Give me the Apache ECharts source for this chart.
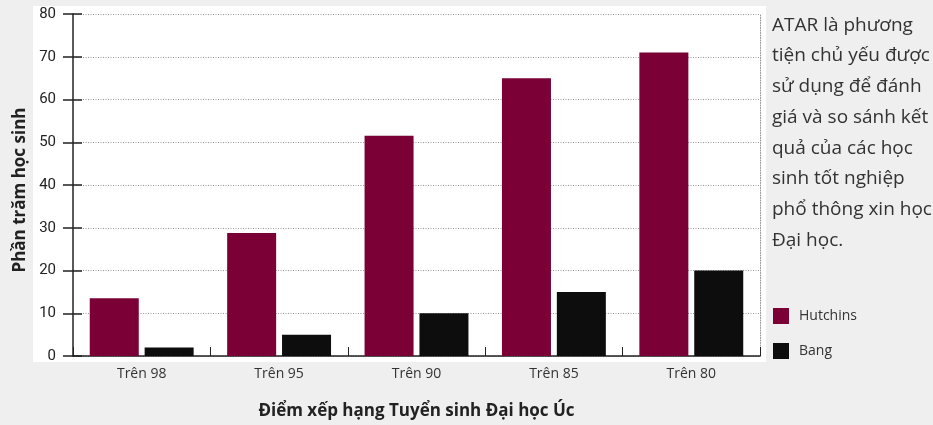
<!DOCTYPE html>
<html><head><meta charset="utf-8">
<script src="https://cdn.jsdelivr.net/npm/echarts@6/dist/echarts.min.js"></script>
<style>html,body{margin:0;padding:0;background:#efefef;}#c{width:933px;height:425px;}</style>
</head><body><div id="c"></div>
<script>
const categories = ['Trên 98', 'Trên 95', 'Trên 90', 'Trên 85', 'Trên 80'];
const hutchins = [13.5, 28.8, 51.5, 65, 71];
const bang = [2, 5, 10, 15, 20];
const seriesNames = ['Hutchins', 'Bang'];
const yTicks = { min: 0, max: 80, interval: 10 };
const xTitle = 'Điểm xếp hạng Tuyển sinh Đại học Úc';
const yTitle = 'Phần trăm học sinh';
const note = 'ATAR là phương\ntiện chủ yếu được\nsử dụng để đánh\ngiá và so sánh kết\nquả của các học\nsinh tốt nghiệp\nphổ thông xin học\nĐại học.';

const chart = echarts.init(document.getElementById('c'), null, { renderer: 'canvas' });
const yBase = { type: 'value', min: yTicks.min, max: yTicks.max, interval: yTicks.interval };
chart.setOption({
  backgroundColor: '#efefef',
  animation: false,
  graphic: [
    { type: 'rect', z: -10, shape: { x: 33, y: 6, width: 733, height: 356 }, style: { fill: '#ffffff' } },
    { type: 'text', left: 772, top: 10, style: { text: note, font: '19px "Open Sans"', fill: '#333333', lineHeight: 30.7 } }
  ],
  legend: {
    orient: 'vertical', left: 768, top: 303, itemWidth: 16, itemHeight: 16, itemGap: 19,
    icon: 'rect', data: seriesNames,
    textStyle: { fontFamily: 'Open Sans', fontSize: 14, color: '#333333', padding: [0, 0, 0, 5] }
  },
  grid: { left: 73, right: 173, top: 14, bottom: 69, containLabel: false },
  xAxis: {
    type: 'category', data: categories,
    axisLine: { lineStyle: { color: '#222', width: 1.5 } },
    axisTick: { show: true, inside: true, length: 9, lineStyle: { color: '#222' } },
    axisLabel: { margin: 11, fontFamily: 'Open Sans', fontSize: 14, color: '#333333' },
    name: xTitle, nameLocation: 'middle', nameGap: 47,
    nameTextStyle: { fontFamily: 'Open Sans', fontSize: 17, fontWeight: 'bold', color: '#222' }
  },
  yAxis: [
    Object.assign({}, yBase, {
      position: 'left',
      axisLine: { show: true, lineStyle: { color: '#222', width: 1.5 } },
      axisTick: { show: true, length: 10, lineStyle: { color: '#222', width: 1.5 } },
      axisLabel: { margin: 17, fontFamily: 'Roboto', fontSize: 15, color: '#222' },
      splitLine: { show: true, lineStyle: { color: '#999', type: [1, 1.5], width: 1 } },
      name: yTitle, nameLocation: 'middle', nameGap: 44, nameRotate: 90,
      nameTextStyle: { fontFamily: 'Open Sans', fontSize: 17, fontWeight: 'bold', color: '#222', padding: [0, 10, 0, 0] }
    }),
    Object.assign({}, yBase, {
      position: 'left',
      axisLine: { show: false },
      axisTick: { show: true, inside: true, length: 9, lineStyle: { color: '#222', width: 1.5 } },
      axisLabel: { show: false }, splitLine: { show: false }
    }),
    Object.assign({}, yBase, {
      position: 'right',
      axisLine: { show: true, lineStyle: { color: '#999', type: [1, 1.5], width: 1 } },
      axisTick: { show: false }, axisLabel: { show: false }, splitLine: { show: false }
    })
  ],
  series: [
    { name: seriesNames[0], type: 'bar', data: hutchins, barWidth: 49, barGap: '12%', itemStyle: { color: '#7a0036' } },
    { name: seriesNames[1], type: 'bar', data: bang, barWidth: 49, barGap: '12%', itemStyle: { color: '#0d0d0d' } }
  ]
});
</script></body></html>
